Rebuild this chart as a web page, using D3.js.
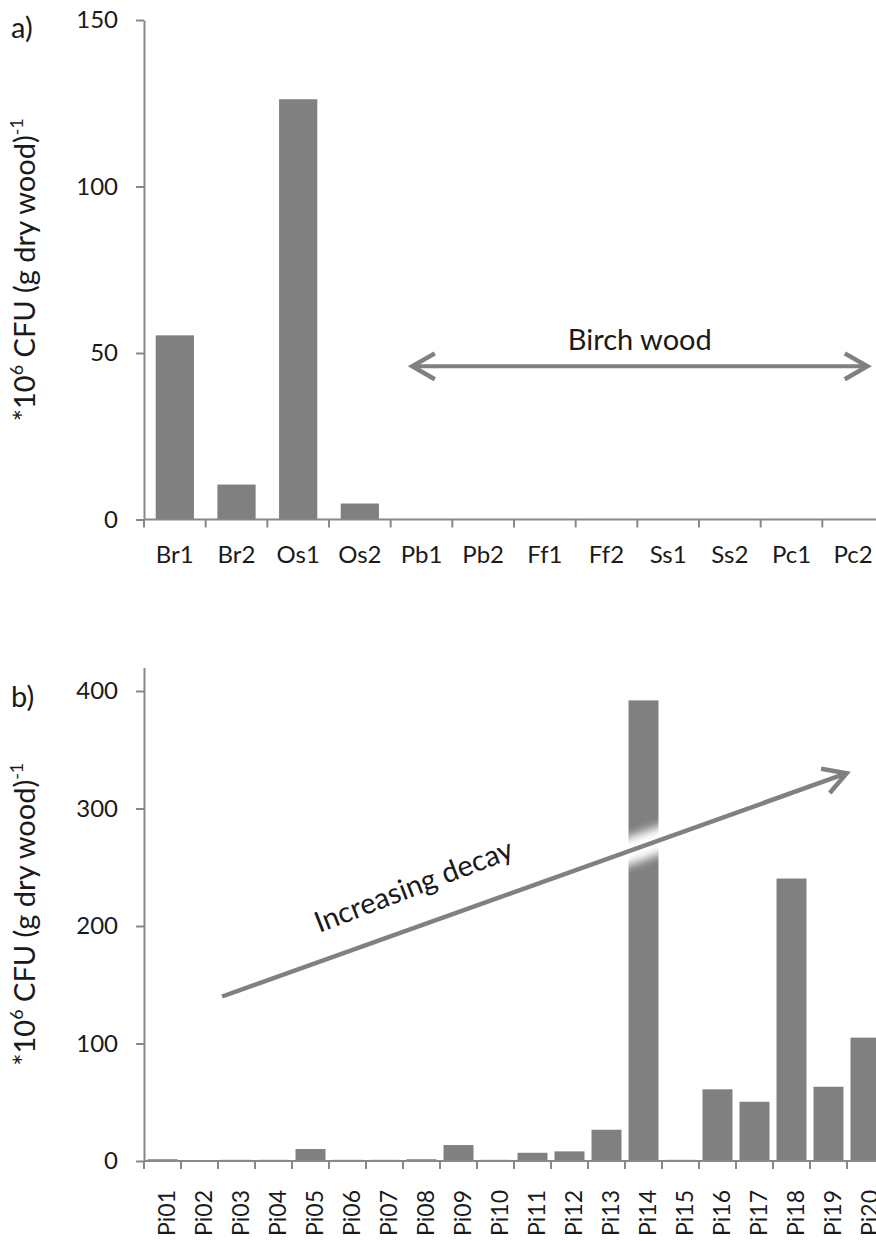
<!DOCTYPE html>
<html>
<head>
<meta charset="utf-8">
<script src="https://cdn.jsdelivr.net/npm/d3@7"></script>
<style>
  body { margin: 0; background: #fff; }
  svg { display: block; font-family: Lato, "Open Sans", sans-serif; }
</style>
</head>
<body>
<div id="chart"></div>
<script>
// panel a: wood species
const woodSamples = ['Br1', 'Br2', 'Os1', 'Os2', 'Pb1', 'Pb2', 'Ff1', 'Ff2', 'Ss1', 'Ss2', 'Pc1', 'Pc2'];
const woodCfu = [55.3, 10.5, 126.2, 4.8, 0, 0, 0, 0, 0, 0, 0, 0];
const woodTicks = [0, 50, 100, 150];

// panel b: pine decay series
const pineSamples = ['Pi01', 'Pi02', 'Pi03', 'Pi04', 'Pi05', 'Pi06', 'Pi07', 'Pi08', 'Pi09', 'Pi10',
  'Pi11', 'Pi12', 'Pi13', 'Pi14', 'Pi15', 'Pi16', 'Pi17', 'Pi18', 'Pi19', 'Pi20'];
const pineCfu = [1.5, 0.3, 1, 1, 10.2, 1, 1, 1.5, 13.6, 1, 7, 8.2, 26.6, 392, 1, 61, 50.4, 240.4, 63.2, 105];
const pineTicks = [0, 100, 200, 300, 400];

// annotations: [category, offset in steps, value]
const birchArrow = { from: ['Pb1', -0.15, 46], to: ['Pc2', 0.23, 46], label: 'Birch wood' };
const decayArrow = { from: ['Pi03', -0.39, 140], to: ['Pi20', -0.51, 330], label: 'Increasing decay' };

const W = 876, H = 1241;
const BAR = '#808080';
const AXIS = '#888888';
const TEXT = '#1a1a1a';

const svg = d3.select('#chart').append('svg')
  .attr('width', W).attr('height', H)
  .attr('viewBox', `0 0 ${W} ${H}`);

svg.append('rect').attr('width', W).attr('height', H).attr('fill', '#fff');

const defs = svg.append('defs');
defs.append('filter').attr('id', 'halo')
  .attr('x', '-20%').attr('y', '-60%').attr('width', '140%').attr('height', '220%')
  .append('feGaussianBlur').attr('stdDeviation', 5);

function drawPanel(cfg) {
  const g = svg.append('g');
  const x = d3.scaleBand().domain(cfg.cats).range([144, 884])
    .paddingInner(cfg.pad).paddingOuter(cfg.pad / 2);
  const y = d3.scaleLinear().domain(cfg.domain).range(cfg.yRange);
  const step = x.step();
  const left = (c) => x(c) - step * cfg.pad / 2;

  g.selectAll('rect.bar').data(cfg.values).join('rect')
    .attr('class', 'bar')
    .attr('x', (d, i) => x(cfg.cats[i]))
    .attr('width', x.bandwidth())
    .attr('y', (d) => y(d))
    .attr('height', (d) => y(0) - y(d))
    .attr('fill', BAR);

  // y axis
  const ya = g.append('g').attr('transform', 'translate(144,0)')
    .call(d3.axisLeft(y).tickValues(cfg.ticks).tickSize(8).tickSizeOuter(0).tickPadding(18));
  ya.select('.domain').attr('stroke', AXIS).attr('stroke-width', 2);
  ya.selectAll('.tick line').attr('stroke', AXIS).attr('stroke-width', 2);
  ya.selectAll('.tick text').attr('fill', TEXT).attr('font-size', 24)
    .attr('font-family', 'Lato, sans-serif');

  // x axis: line + boundary ticks
  g.append('line').attr('x1', 144).attr('x2', 884)
    .attr('y1', y(0)).attr('y2', y(0))
    .attr('stroke', AXIS).attr('stroke-width', 2);
  g.selectAll('line.xt').data(cfg.cats).join('line')
    .attr('class', 'xt')
    .attr('x1', (c) => left(c)).attr('x2', (c) => left(c))
    .attr('y1', y(0)).attr('y2', y(0) + 8)
    .attr('stroke', AXIS).attr('stroke-width', 2);

  const labels = g.selectAll('text.xl').data(cfg.cats).join('text')
    .attr('class', 'xl')
    .attr('fill', TEXT).attr('font-size', cfg.labelSize)
    .text((c) => c);
  if (cfg.rotate) {
    labels.attr('text-anchor', 'end')
      .attr('transform', (c) => `translate(${x(c) + x.bandwidth() / 2 + 12},${cfg.labelY}) rotate(-90)`);
  } else {
    labels.attr('text-anchor', 'middle')
      .attr('x', (c) => x(c) + x.bandwidth() / 2)
      .attr('y', cfg.labelY);
  }

  // y title
  const mid = (cfg.yRange[0] + cfg.yRange[1]) / 2;
  const t = g.append('text')
    .attr('transform', `translate(35,${mid}) rotate(-90)`)
    .attr('text-anchor', 'middle').attr('fill', TEXT).attr('font-size', 29);
  t.append('tspan').text('*10');
  t.append('tspan').attr('font-size', 18).attr('dy', -12).text('6');
  t.append('tspan').attr('dy', 12).text(' CFU (g dry wood)');
  t.append('tspan').attr('font-size', 18).attr('dy', -12).text('-1');

  g.append('text').attr('x', 11).attr('y', cfg.tagY)
    .attr('fill', TEXT).attr('font-size', 29).text(cfg.tag);

  const pt = (a) => [x(a[0]) + x.bandwidth() / 2 + a[1] * step, y(a[2])];
  return { g, pt };
}

function head(g, tip, ang) {
  const L = 26, spread = 0.52;
  const p1 = [tip[0] - L * Math.cos(ang - spread), tip[1] - L * Math.sin(ang - spread)];
  const p2 = [tip[0] - L * Math.cos(ang + spread), tip[1] - L * Math.sin(ang + spread)];
  g.append('polyline')
    .attr('points', [p1, tip, p2].map((p) => p.join(',')).join(' '))
    .attr('fill', 'none').attr('stroke', BAR).attr('stroke-width', 4.5)
    .attr('stroke-linejoin', 'miter');
}

// panel a
const pa = drawPanel({
  cats: woodSamples, values: woodCfu, ticks: woodTicks, domain: [0, 150],
  yRange: [519.5, 20], pad: 0.38, labelY: 563, labelSize: 24, tag: 'a)', tagY: 38
});
{
  const a = pa.pt(birchArrow.from), b = pa.pt(birchArrow.to);
  pa.g.append('line').attr('x1', a[0] + 2).attr('y1', a[1]).attr('x2', b[0] - 2).attr('y2', b[1])
    .attr('stroke', BAR).attr('stroke-width', 4);
  head(pa.g, b, 0);
  head(pa.g, a, Math.PI);
  pa.g.append('text').attr('x', (a[0] + b[0]) / 2).attr('y', a[1] - 16)
    .attr('text-anchor', 'middle').attr('fill', TEXT).attr('font-size', 29)
    .text(birchArrow.label);
}

// panel b
const pb = drawPanel({
  cats: pineSamples, values: pineCfu, ticks: pineTicks, domain: [0, 420],
  yRange: [1161, 1161 - 420 * 1.175], pad: 0.19, labelY: 1190, labelSize: 23, rotate: true,
  tag: 'b)', tagY: 707
});
{
  const a = pb.pt(decayArrow.from), b = pb.pt(decayArrow.to);
  const ang = Math.atan2(b[1] - a[1], b[0] - a[0]);
  pb.g.append('line').attr('x1', a[0]).attr('y1', a[1]).attr('x2', b[0]).attr('y2', b[1])
    .attr('stroke', '#fff').attr('stroke-width', 26).attr('filter', 'url(#halo)');
  pb.g.append('line').attr('x1', a[0]).attr('y1', a[1])
    .attr('x2', b[0] - 2 * Math.cos(ang)).attr('y2', b[1] - 2 * Math.sin(ang))
    .attr('stroke', BAR).attr('stroke-width', 4.5);
  head(pb.g, b, ang);
  const f = 0.17, off = 27;
  const tx = a[0] + f * (b[0] - a[0]) + off * Math.sin(ang);
  const ty = a[1] + f * (b[1] - a[1]) - off * Math.cos(ang);
  pb.g.append('text')
    .attr('transform', `translate(${tx},${ty}) rotate(${ang * 180 / Math.PI - 1.5})`)
    .attr('fill', TEXT).attr('font-size', 29)
    .text(decayArrow.label);
}
</script>
</body>
</html>
